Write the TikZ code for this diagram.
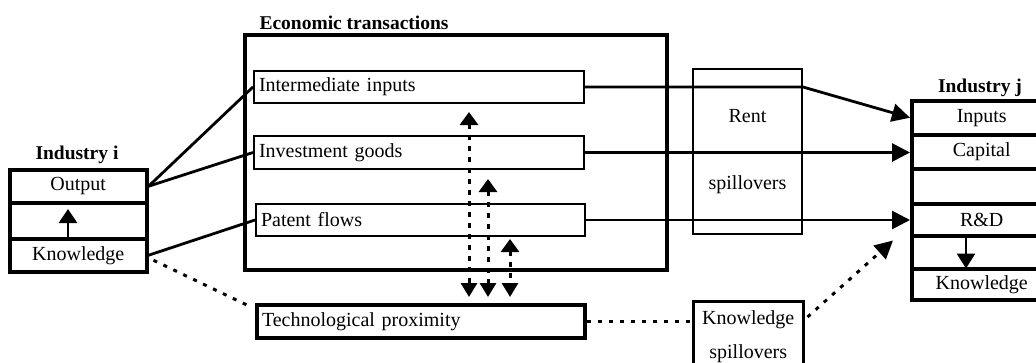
\documentclass[tikz,border=0pt]{standalone}
\usepackage{fontspec}
\setmainfont{Liberation Serif}
\usetikzlibrary{arrows.meta,calc}
\begin{document}
\begin{tikzpicture}[x=1pt,y=-1pt,
  font=\fontsize{20}{24}\selectfont,
  heavybox/.style={draw, line width=3.5pt, inner sep=0pt, anchor=north west, align=center},
  thinbox/.style={draw, line width=2pt, inner sep=0pt, inner xsep=5pt, anchor=north west, align=left},
  heading/.style={font=\fontsize{19.5}{24}\selectfont\bfseries, anchor=base},
  link/.style={line width=2.8pt},
  dotlink/.style={line width=3pt, dash pattern=on 4pt off 7pt},
  bigtip/.style={-{Triangle[length=18pt,width=18pt]}},
  vdot/.style={line width=3pt, dash pattern=on 5pt off 6pt,
     {Triangle[length=13pt,width=18pt]}-{Triangle[length=14pt,width=16pt]}},
]
\useasboundingbox (0,0) rectangle (1036,362);
\clip (0,0) rectangle (1036,362);

% Industry i
\node[heading] (ilab) at (77,159) {Industry i};
\node[heavybox, minimum width=137, minimum height=33] (out) at (8,168) {Output};
\node[heavybox, minimum width=137, minimum height=36] (mid) at (8,201) {};
\node[heavybox, minimum width=137, minimum height=33] (kn) at (8,237) {Knowledge};
\draw[line width=2.8pt, -{Triangle[length=14pt,width=18pt]}]
  ($(mid.south west)+(60,0)$) -- ($(mid.north west)+(60,8)$);

% Economic transactions
\node[heavybox, line width=4pt, minimum width=422, minimum height=235] (econ) at (243,33) {};
\node[heading, anchor=base west] (elab) at (256,29) {Economic transactions};
\node[thinbox, minimum width=330, minimum height=32, text width=320] (ii) at (253,70) {Intermediate inputs};
\node[thinbox, minimum width=330, minimum height=33, text width=320] (ig) at (253,135) {Investment goods};
\node[thinbox, minimum width=329, minimum height=32, text width=319] (pf) at (255,203) {Patent flows};
\node[thinbox, line width=4pt, minimum width=328, minimum height=33, text width=318] (tp) at (255,303) {Technological proximity};

% Spillover boxes
\node[draw, line width=2pt, inner sep=0pt, anchor=north west, minimum width=109, minimum height=165, align=center]
  (rent) at (692,68) {Rent\\[43pt]spillovers};
\node[draw, line width=2.5pt, inner sep=0pt, anchor=north west, minimum width=110, minimum height=70, align=center]
  (ks) at (692,300) {Knowledge\\[10pt]spillovers};

% Industry j
\node[heading] (jlab) at (980,92) {Industry j};
\node[heavybox, minimum width=140, minimum height=34] (inp) at (910,99) {Inputs};
\node[heavybox, minimum width=140, minimum height=34] (cap) at (910,133) {Capital};
\node[heavybox, minimum width=140, minimum height=35] (emp) at (910,167) {};
\node[heavybox, minimum width=140, minimum height=32] (rd) at (910,202) {R\&D};
\node[heavybox, minimum width=140, minimum height=33] (arj) at (910,234) {};
\node[heavybox, minimum width=140, minimum height=31] (knj) at (910,267) {Knowledge};
\draw[line width=2.8pt, -{Triangle[length=15pt,width=18pt]}]
  ($(arj.north west)+(56,0)$) -- ($(arj.south west)+(56,-2)$);

% connectors
\draw[link] (out.east) -- (ii.west);
\draw[link] (out.east) -- (ig.west);
\draw[link] (kn.east) -- (pf.west);
\draw[dotlink] ($(kn.east)+(5,5)$) -- ($(tp.north west)+(-4,4)$);
\draw[link, bigtip] (ii.east) -- (ii.east -| rent.east) -- (inp.west);
\draw[link, bigtip] (ig.east) -- (ig.east -| cap.west);
\draw[link, bigtip] (pf.east) -- (pf.east -| rd.west);
\draw[dotlink] (tp.east) -- (tp.east -| ks.west);
\draw[dotlink, bigtip] ($(ks.north east)+(3,17)$) -- ($(rd.south west)+(-17,3)$);

% vertical dotted double arrows
\draw[vdot] ($(ii.south west)+(216,8)$) -- ($(tp.north west)+(214,-6)$);
\draw[vdot] ($(ig.south west)+(235,9)$) -- ($(tp.north west)+(233,-6)$);
\draw[vdot] ($(pf.south west)+(255,2)$) -- ($(tp.north west)+(255,-6)$);
\end{tikzpicture}
\end{document}
